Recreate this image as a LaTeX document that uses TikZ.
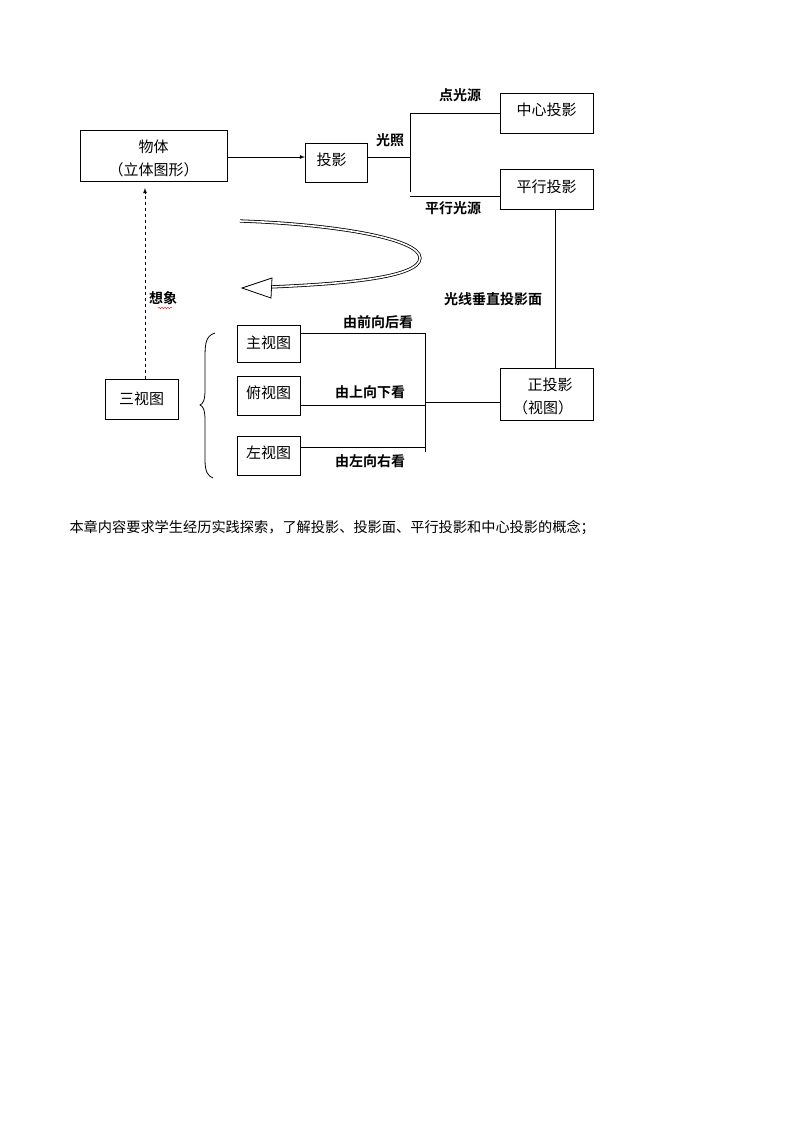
\documentclass[tikz,border=0pt]{standalone}
\usepackage{fontspec}
\usetikzlibrary{decorations.pathmorphing}
\setmainfont{Noto Sans CJK SC}
\newfontfamily\lbl{Noto Sans CJK SC Bold}
\begin{document}
\begin{tikzpicture}[x=1pt,y=-1pt,
  box/.style={draw,thick,inner sep=0},
  txt/.style={font=\fontsize{15}{18}\selectfont},
  lab/.style={font=\lbl\fontsize{14}{16}\selectfont},
  ln/.style={thick}]
\useasboundingbox (0,0) rectangle (800,1132);
\draw[box] (80,130) rectangle (227,181);
\node[txt] (wt1) at (153.5,147) {物体};
\node[txt] (wt2) at (153.5,170) {（立体图形）};
\coordinate (wt) at (227,157);
\draw[box] (305,143) rectangle (367,182);
\node[txt,anchor=west] (ty) at (313,160) {投影};
\coordinate (tyl) at (305,157);
\draw[box] (500,93) rectangle (593,133);
\node[txt] (zx) at (546.5,110) {中心投影};
\draw[box] (500,169) rectangle (593,209);
\node[txt] (px) at (546.5,187) {平行投影};
\draw[box] (500,368) rectangle (593,420);
\node[txt] (zt1) at (550,385) {正投影};
\node[txt] (zt2) at (543,408) {（视图）};
\draw[box] (105,379) rectangle (178,419);
\node[txt] (sv) at (141.5,399) {三视图};
\draw[box] (237,325) rectangle (300,362);
\node[txt] (v1) at (268.5,343) {主视图};
\draw[box] (237,376) rectangle (300,415);
\node[txt] (v2) at (268.5,393) {俯视图};
\draw[box] (237,436) rectangle (300,475);
\node[txt] (v3) at (268.5,453) {左视图};
% connectors
\draw[ln,-latex] (wt) -- (tyl);
\draw[ln] (367,157) -- (410,157);
\draw[ln] (410,113) -- (410,192);
\draw[ln] (410,113) -- (500,113);
\draw[ln] (410,196) -- (500,196);
\draw[ln] (555,209) -- (555,368);
\draw[ln,dashed,-latex] (145,379) -- (145,188);
\draw[ln] (300,333) -- (425,333) -- (425,452);
\draw[ln] (300,405) -- (425,405);
\draw[ln] (300,447) -- (425,447);
\draw[ln] (425,402) -- (500,402);
% brace
\draw[thick] (215,333) .. controls (205,336) and (205,345) .. (205,360) -- (205,390) .. controls (205,400) and (203,404) .. (200,405) .. controls (203,406) and (205,410) .. (205,420) -- (205,460) .. controls (205,472) and (208,476) .. (213,478);
% labels
\node[lab] (l1) at (460,95) {点光源};
\node[lab] (l2) at (390,140) {光照};
\node[lab] (l3) at (453,208) {平行光源};
\node[lab] (l4) at (493,299) {光线垂直投影面};
\node[lab] (l5) at (378,322) {由前向后看};
\node[lab] (l6) at (370,392) {由上向下看};
\node[lab] (l7) at (370,461) {由左向右看};
\node[lab] (l8) at (163,298) {想象};
\draw[red,thin,decorate,decoration={snake,amplitude=0.8pt,segment length=3pt}] (158,308) -- (172,308);
% curved hollow arrow
\draw[thick,double,double distance=1.6pt] (240,221) .. controls (330,224) and (420,238) .. (420,258) .. controls (420,278) and (340,284) .. (270,287);
\draw[thick,fill=white] (242,288) -- (272,278) -- (271,298) -- cycle;
% bottom text
\node[anchor=west,font=\fontsize{14.2}{17}\selectfont] (bt) at (66,528) {本章内容要求学生经历实践探索，了解投影、投影面、平行投影和中心投影的概念；};
\end{tikzpicture}
\end{document}
